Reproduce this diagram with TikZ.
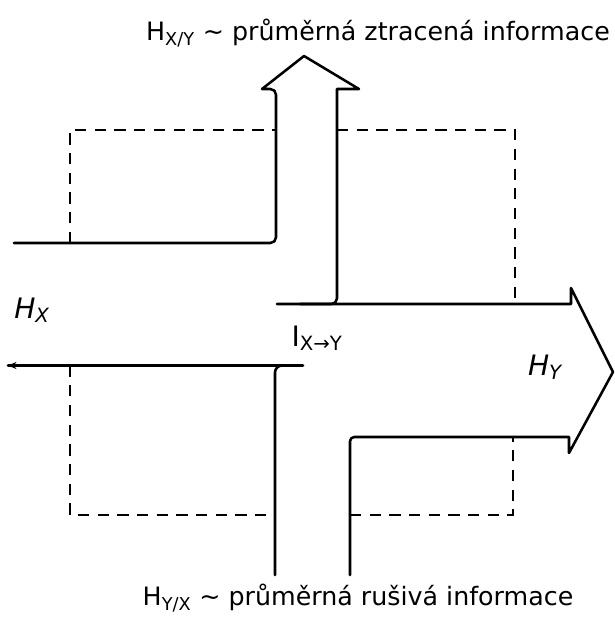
\documentclass[tikz,border=0pt]{standalone}
\usepackage{fontspec}
\setmainfont{DejaVu Sans}
\usetikzlibrary{arrows.meta,positioning}

\begin{document}
\begin{tikzpicture}[
        x=0.025cm, y=-0.025cm,
        flow/.style={draw, line width=1.8pt, line join=round, line cap=round},
        boundary/.style={draw, line width=1.2pt, dash pattern=on 8pt off 6pt},
        caption/.style={font=\fontsize{18}{20}\selectfont, inner sep=0pt},
        quantity/.style={font=\fontsize{20}{22}\selectfont, inner sep=0pt},
    ]
    \useasboundingbox (0,0) rectangle (614,619);

    % corner points of the two streams
    \coordinate (inL)  at (14,243);
    \coordinate (outL) at (8,365.5);
    \coordinate (tip)  at (613,372);

    % upper stream: H_X -> lost information
    \path[flow] (inL) [rounded corners=4pt] -- (276,243) -- (276,89)
        [sharp corners] -- (262,89) -- (304,56) -- (359,89) -- (337,89)
        [rounded corners=4pt] -- (337,304) -- (300,304);

    % output stream H_Y
    \path[flow] (277,304) -- (571,304) -- (571,288) -- (tip)
        -- (569,453) -- (569,437) [rounded corners=3pt] -- (350,437) -- (350,575);

    % lower stream with the noise
    \path[flow] (outL) -- (303,365.5);
    \path[flow, -{Stealth[length=6pt,width=5pt]}] (24,365.5) -- (outL);
    \path[flow, rounded corners=5pt] (275,575) -- (275,365.5) -- (300,365.5);

    % channel boundaries
    \path[boundary] (70,243) -- (70,130) -- (276,130);
    \path[boundary] (337,130) -- (515,130) -- (515,304);
    \path[boundary] (70,365.5) -- (70,515) -- (275,515);
    \path[boundary] (350,515) -- (513,515) -- (513,437);

    % labels
    \node[caption] (lost) at (378,33) {H\textsubscript{X/Y} ∼ průměrná ztracená informace};
    \node[caption] (noise) at (358,598) {H\textsubscript{Y/X} ∼ průměrná rušivá informace};
    \node[quantity] (hx) at (32,310) {\itshape H\textsubscript{X}};
    \node[quantity] (hy) at (545,367) {\itshape H\textsubscript{Y}};
    \node[quantity] (ixy) at (317,338) {I\textsubscript{X→Y}};
\end{tikzpicture}
\end{document}
